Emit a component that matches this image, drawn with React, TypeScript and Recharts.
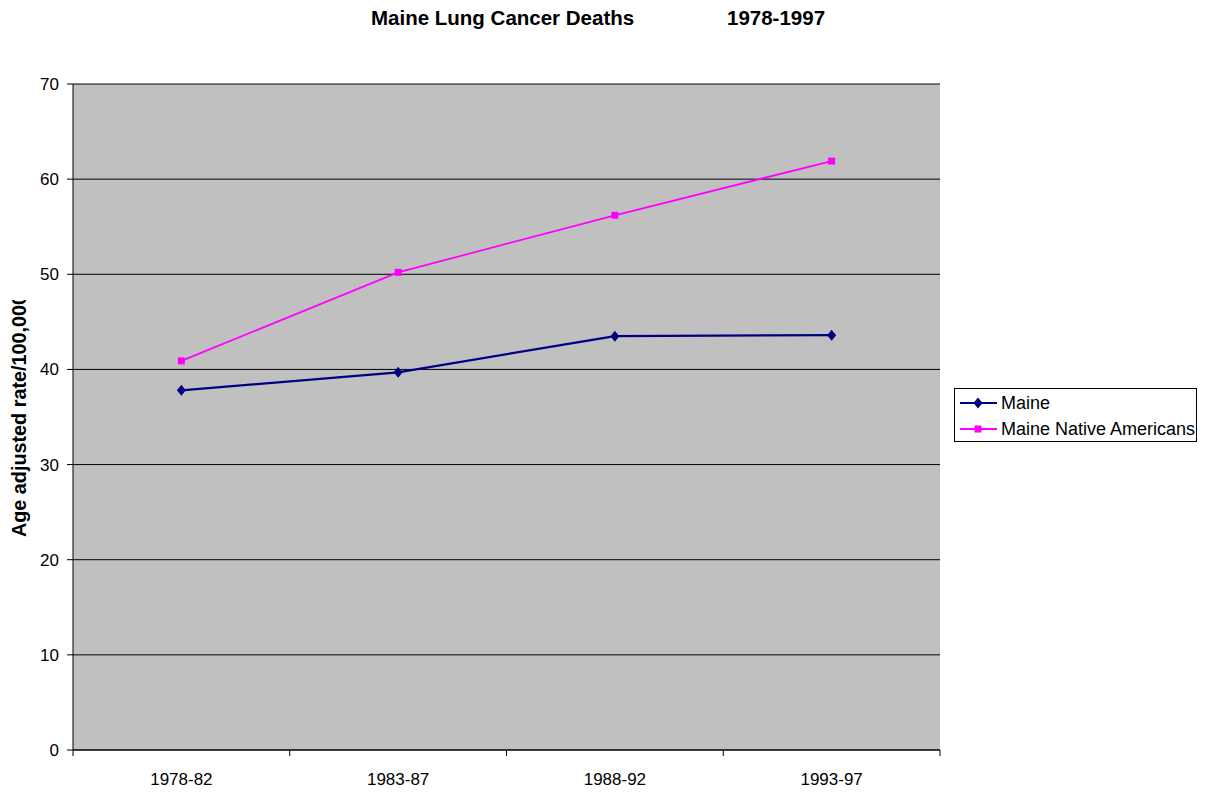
import React from 'react';
import { LineChart, Line, XAxis, YAxis, CartesianGrid, Legend } from 'recharts';

// values
const periods = ['1978-82', '1983-87', '1988-92', '1993-97'];
const maineRates = [37.8, 39.7, 43.5, 43.6];
const nativeRates = [40.9, 50.2, 56.2, 61.9];
const yTicks = [0, 10, 20, 30, 40, 50, 60, 70];

const seriesNames = { maine: 'Maine', native: 'Maine Native Americans' };
const colors = { maine: '#000080', native: '#FF00FF' };

const data = periods.map((period, i) => ({
  period,
  maine: maineRates[i],
  native: nativeRates[i],
}));

const FONT = '"Liberation Sans", Arial, sans-serif';

const Diamond = ({ cx, cy, fill }: any) => {
  if (cx == null || cy == null) return null;
  return <polygon points={`${cx},${cy - 5.5} ${cx + 4.5},${cy} ${cx},${cy + 5.5} ${cx - 4.5},${cy}`} fill={fill} />;
};

const Square = ({ cx, cy, fill }: any) => {
  if (cx == null || cy == null) return null;
  return <rect x={cx - 3.5} y={cy - 3.5} width={7} height={7} fill={fill} />;
};

// Excel-style category ticks: marks sit on the band edges, labels in the middle
const PeriodTick = (props: any) => {
  const { x, y, payload, index } = props;
  const half = payload?.offset ?? 0;
  return (
    <g>
      <line x1={x - half} x2={x - half} y1={y} y2={y + 6} stroke="#000" />
      {index === periods.length - 1 && <line x1={x + half} x2={x + half} y1={y} y2={y + 6} stroke="#000" />}
      <text x={x} y={y + 35} textAnchor="middle" fontSize={17} fontFamily={FONT} fill="#000">
        {payload.value}
      </text>
    </g>
  );
};

// the axis title is cut off at its top in the original, keep that
const YLabel = () => {
  const cy = 537;
  const x = 26;
  return (
    <g>
      <defs>
        <clipPath id="ylabel-clip">
          <rect x={0} y={300} width={60} height={300} />
        </clipPath>
      </defs>
      <g clipPath="url(#ylabel-clip)">
        <text
          x={x}
          y={cy}
          transform={`rotate(-90 ${x} ${cy})`}
          fontSize={19.8}
          fontWeight="bold"
          fontFamily={FONT}
          fill="#000"
        >
          Age adjusted rate/100,000
        </text>
      </g>
    </g>
  );
};

const LegendBox = () => (
  <div
    style={{
      width: 241,
      height: 52,
      border: '1px solid #000',
      background: '#fff',
      fontFamily: FONT,
      fontSize: 18,
      color: '#000',
      boxSizing: 'content-box',
    }}
  >
    {(['maine', 'native'] as const).map((key, i) => (
      <div key={key} style={{ display: 'flex', alignItems: 'center', height: 26, marginTop: i === 0 ? 1 : 0 }}>
        <svg width={46} height={14} style={{ flex: 'none' }}>
          <line x1={5} x2={42} y1={7} y2={7} stroke={colors[key]} strokeWidth={2} />
          {key === 'maine' ? <Diamond cx={23} cy={7} fill={colors[key]} /> : <Square cx={23} cy={7} fill={colors[key]} />}
        </svg>
        <span>{seriesNames[key]}</span>
      </div>
    ))}
  </div>
);

const titleStyle: React.CSSProperties = {
  position: 'absolute',
  top: 6,
  fontFamily: FONT,
  fontWeight: 'bold',
  fontSize: 20.5,
  whiteSpace: 'pre',
  color: '#000',
};

export default function App() {
  return (
    <div style={{ position: 'absolute', left: 0, top: 0, width: 1214, height: 793, background: '#fff' }}>
      <div style={{ ...titleStyle, left: 371 }}>Maine Lung Cancer Deaths</div>
      <div style={{ ...titleStyle, left: 727 }}>1978-1997</div>
      <LineChart width={1214} height={793} data={data} margin={{ top: 84, right: 274, bottom: 0, left: 0 }}>
        <CartesianGrid vertical={false} stroke="#000" fill="#C0C0C0" fillOpacity={1} />
        <XAxis
          dataKey="period"
          scale="band"
          height={43}
          axisLine={{ stroke: '#000' }}
          tickLine={false}
          tickSize={0}
          tickMargin={0}
          tick={<PeriodTick />}
          interval={0}
        />
        <YAxis
          width={73}
          domain={[0, 70]}
          ticks={yTicks}
          interval={0}
          axisLine={{ stroke: '#000' }}
          tickLine={{ stroke: '#000' }}
          tickSize={6}
          tickMargin={8}
          tick={{ fontSize: 17, fontFamily: FONT, fill: '#000' }}
          label={<YLabel />}
        />
        <YAxis
          yAxisId="frame"
          orientation="right"
          width={0}
          domain={[0, 70]}
          tick={false}
          tickLine={false}
          axisLine={{ stroke: '#808080' }}
        />
        <Legend
          layout="vertical"
          align="center"
          verticalAlign="middle"
          content={<LegendBox />}
          wrapperStyle={{ left: 954, top: 388, width: 243 }}
        />
        <Line
          dataKey="maine"
          name={seriesNames.maine}
          stroke={colors.maine}
          strokeWidth={2.25}
          dot={<Diamond fill={colors.maine} />}
          activeDot={false}
          isAnimationActive={false}
        />
        <Line
          dataKey="native"
          name={seriesNames.native}
          stroke={colors.native}
          strokeWidth={1.75}
          dot={<Square fill={colors.native} />}
          activeDot={false}
          isAnimationActive={false}
        />
      </LineChart>
    </div>
  );
}
